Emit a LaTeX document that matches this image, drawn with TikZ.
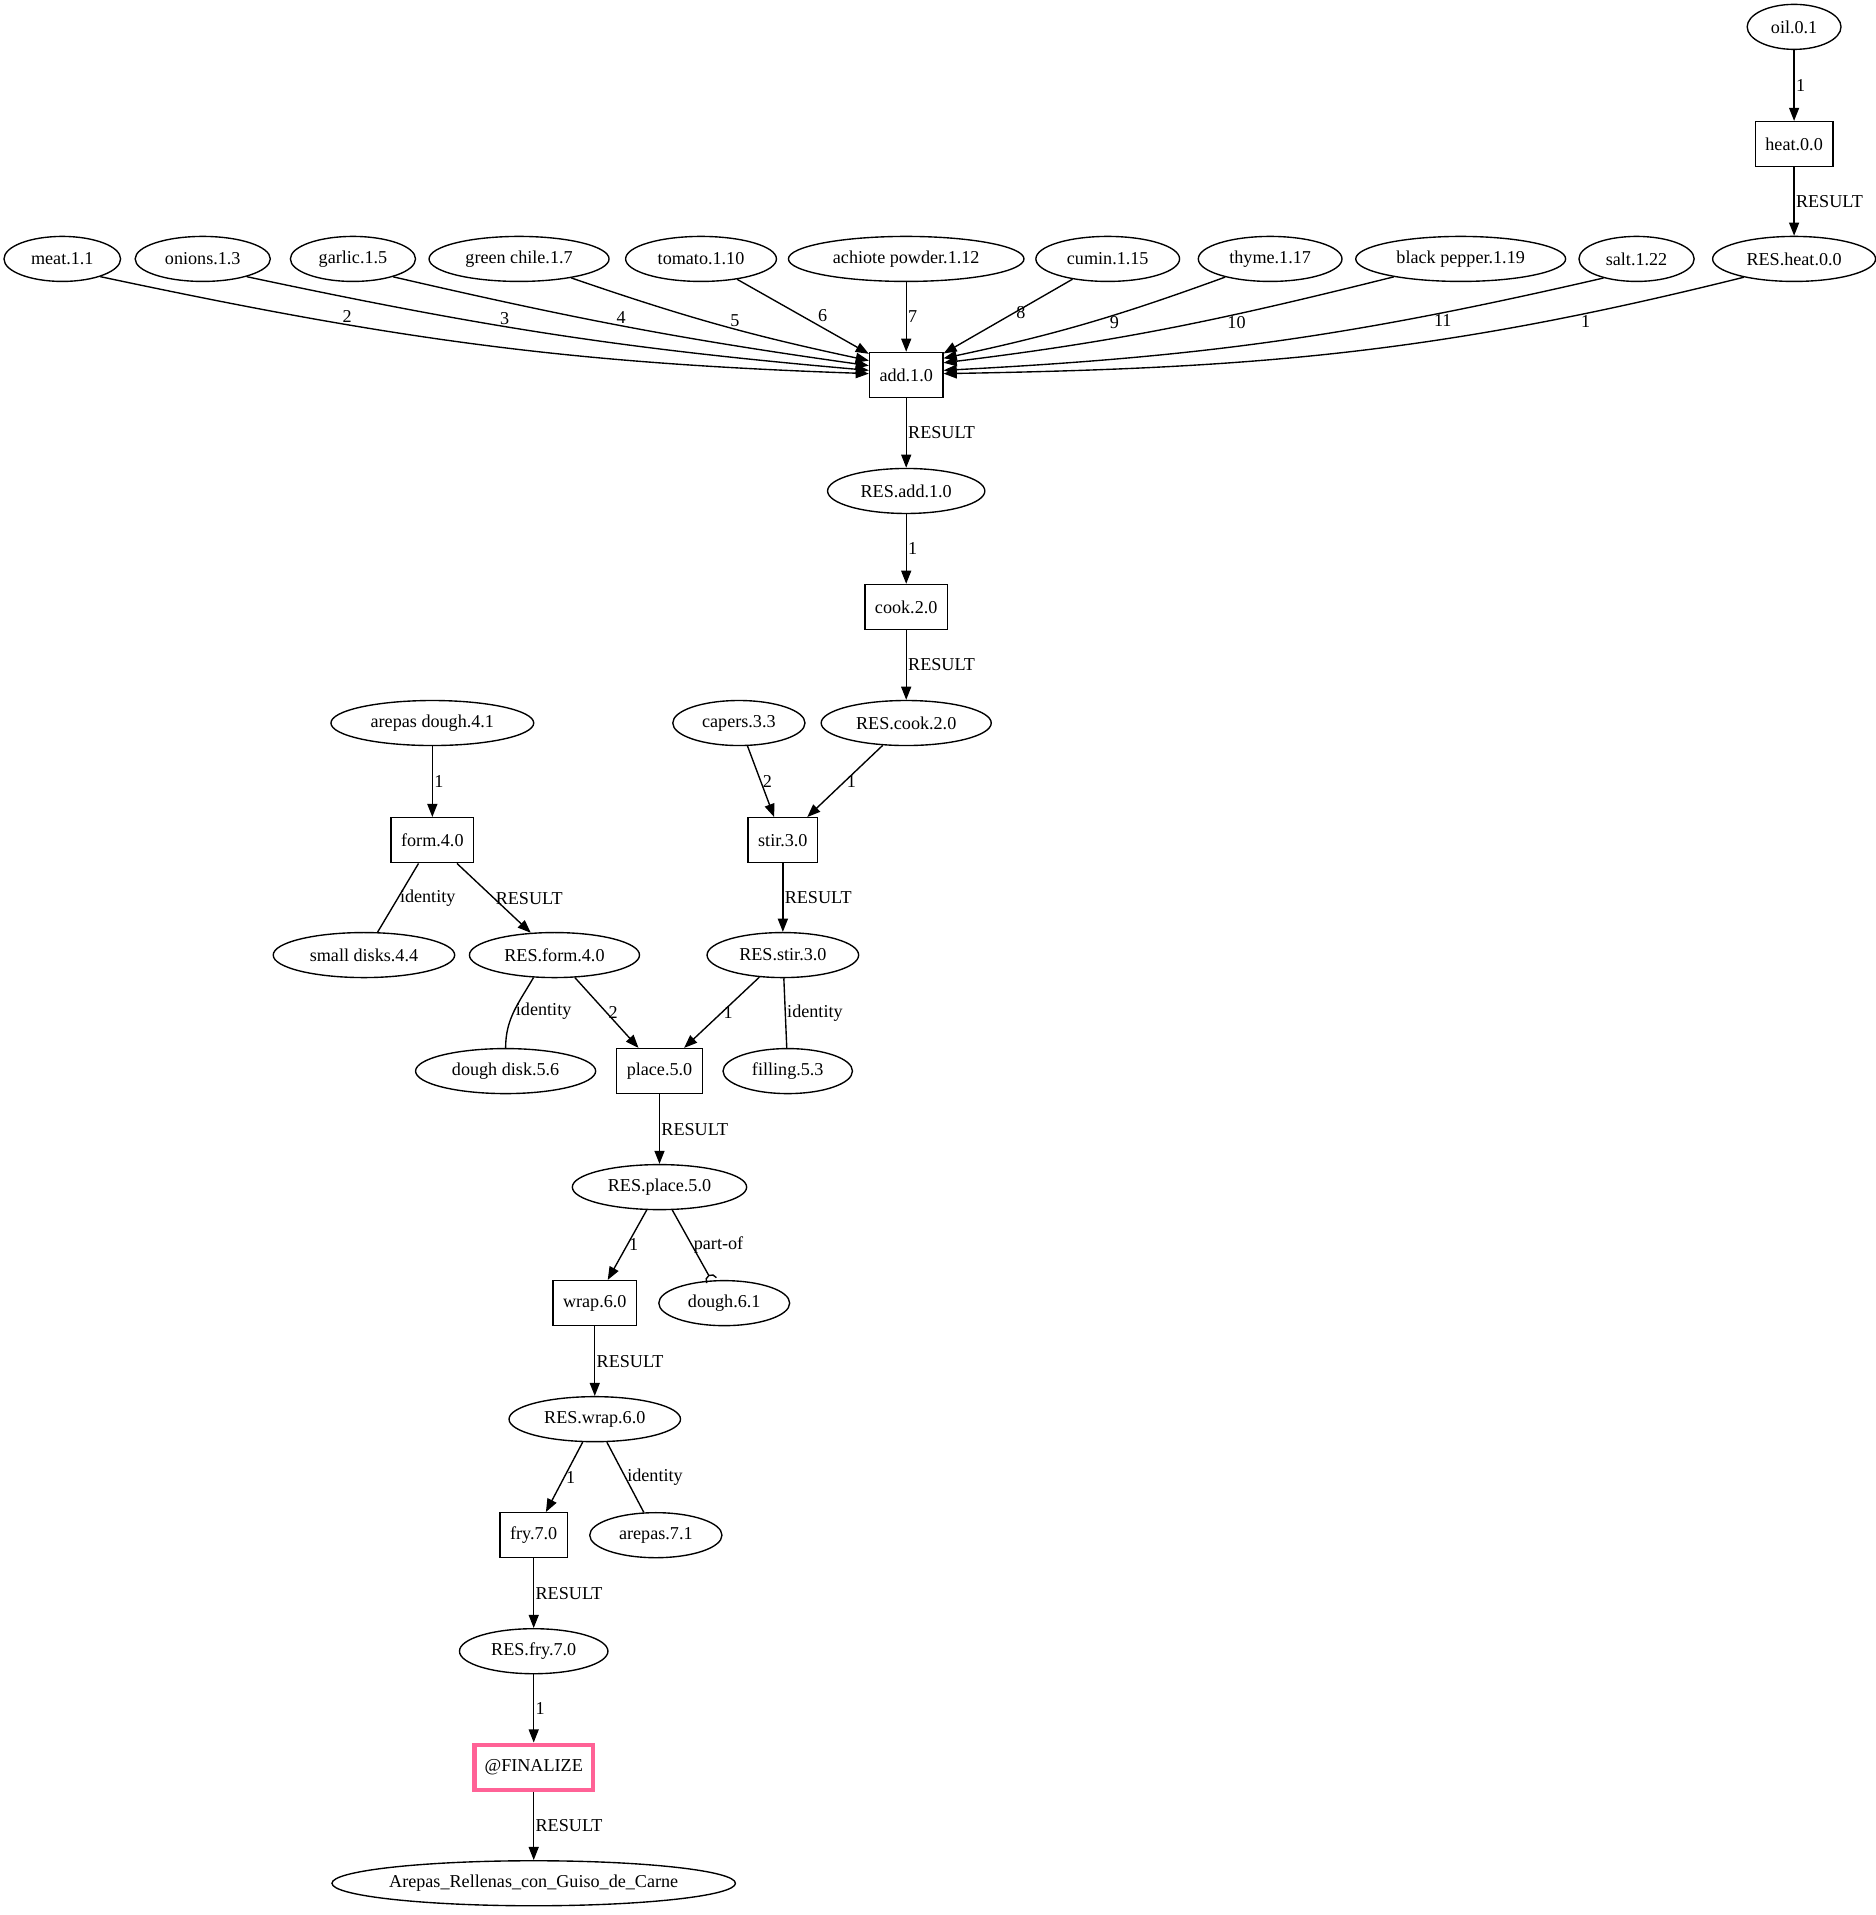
\documentclass[tikz,border=0pt]{standalone}
\usepackage{fontspec}
\setmainfont{Liberation Serif}
\usetikzlibrary{arrows.meta,shapes.geometric}
\definecolor{finpink}{HTML}{FF6296}

\begin{document}
\begin{tikzpicture}[x=0.97656pt,y=-0.97656pt,
  font=\fontsize{14.5}{16}\selectfont,line width=1.1pt,
  op/.style={draw,rectangle,minimum width=54pt,minimum height=36pt,inner xsep=8pt},
  ing/.style={draw,ellipse,minimum width=54pt,minimum height=36pt,inner xsep=8pt,inner ysep=3pt},
  fin/.style={op,draw=finpink,line width=3.5pt},
  flow/.style={-{Triangle[length=10.5pt,width=8pt]}},
  partof/.style={-{Arc Barb[reversed,length=5pt,width=10pt]}},
  lbl/.style={inner sep=1pt}]
  \useasboundingbox (0,0) rectangle (1536,1568);

  % oil gets heated first
  \node[ing] (oil) at (1469,22) {oil.0.1};
  \node[op] (heat) at (1469,118) {heat.0.0};
  \node[ing] (resheat) at (1469,212) {RES.heat.0.0};

  % everything that goes into the pot
  \node[ing] (meat) at (51,212) {meat.1.1};
  \node[ing] (onions) at (166,212) {onions.1.3};
  \node[ing] (garlic) at (289,212) {garlic.1.5};
  \node[ing] (chile) at (425,212) {green chile.1.7};
  \node[ing] (tomato) at (574,212) {tomato.1.10};
  \node[ing] (achiote) at (742,212) {achiote powder.1.12};
  \node[ing] (cumin) at (907,212) {cumin.1.15};
  \node[ing] (thyme) at (1040,212) {thyme.1.17};
  \node[ing] (pepper) at (1196,212) {black pepper.1.19};
  \node[ing] (salt) at (1340,212) {salt.1.22};
  \node[op] (add) at (742,307) {add.1.0};
  \node[ing] (resadd) at (742,402) {RES.add.1.0};
  \node[op] (cook) at (742,497) {cook.2.0};
  \node[ing] (rescook) at (742,592) {RES.cook.2.0};

  % filling and dough
  \node[ing] (capers) at (605,592) {capers.3.3};
  \node[ing] (arepasdough) at (354,592) {arepas dough.4.1};
  \node[op] (form) at (354,688) {form.4.0};
  \node[op] (stir) at (641,688) {stir.3.0};
  \node[ing] (disks) at (298,782) {small disks.4.4};
  \node[ing] (resform) at (454,782) {RES.form.4.0};
  \node[ing] (resstir) at (641,782) {RES.stir.3.0};
  \node[ing] (doughdisk) at (414,877) {dough disk.5.6};
  \node[op] (place) at (540,877) {place.5.0};
  \node[ing] (filling) at (645,877) {filling.5.3};
  \node[ing] (resplace) at (540,972) {RES.place.5.0};
  \node[op] (wrap) at (487,1067) {wrap.6.0};
  \node[ing] (doughsix) at (593,1067) {dough.6.1};
  \node[ing] (reswrap) at (487,1162) {RES.wrap.6.0};
  \node[op] (fry) at (437,1257) {fry.7.0};
  \node[ing] (arepas) at (537,1257) {arepas.7.1};
  \node[ing] (resfry) at (437,1352) {RES.fry.7.0};
  \node[fin] (final) at (437,1447) {@FINALIZE};
  \node[ing,inner xsep=-1.5pt] (dish) at (437,1542) {Arepas\_Rellenas\_con\_Guiso\_de\_Carne};

  \draw[flow] (oil) -- node[lbl,right] {1} (heat);
  \draw[flow] (heat) -- node[lbl,right] {RESULT} (resheat);

  \draw[flow] (meat.-25) to[out=-12,in=178] node[lbl,pos=0.31,above] {2} (add.178);
  \draw[flow] (onions.-22) to[out=-12,in=175] node[lbl,pos=0.41,above] {3} (add.173);
  \draw[flow] (garlic.-24) to[out=-13,in=172] node[lbl,pos=0.48,above] {4} (add.166);
  \draw[flow] (chile.-20) to[out=-19,in=168] node[lbl,pos=0.56,above] {5} (add.159);
  \draw[flow] (tomato) -- node[lbl,pos=0.6,above right] {6} (add);
  \draw[flow] (achiote) -- node[lbl,right] {7} (add);
  \draw[flow] (cumin) -- node[lbl,pos=0.45,right] {8} (add);
  \draw[flow] (thyme.202) to[out=200,in=12] node[lbl,pos=0.39,below] {9} (add.24);
  \draw[flow] (pepper.195) to[out=194,in=7] node[lbl,pos=0.34,below] {10} (add.18);
  \draw[flow] (salt.210) to[out=193,in=3] node[lbl,pos=0.23,below] {11} (add.7);
  \draw[flow] (resheat.200) to[out=194,in=1] node[lbl,pos=0.185,below] {1} (add.2);

  \draw[flow] (add) -- node[lbl,right] {RESULT} (resadd);
  \draw[flow] (resadd) -- node[lbl,right] {1} (cook);
  \draw[flow] (cook) -- node[lbl,right] {RESULT} (rescook);

  \draw[flow] (arepasdough) -- node[lbl,right] {1} (form);
  \draw[flow] (capers) -- node[lbl,right] {2} (stir);
  \draw[flow] (rescook) -- node[lbl,right] {1} (stir);
  \draw[flow] (form) -- node[lbl,right] {RESULT} (resform);
  \draw (form) -- node[lbl,right] {identity} (disks);
  \draw[flow] (stir) -- node[lbl,right] {RESULT} (resstir);

  \draw (resform.-133) to[out=-120,in=90] node[lbl,right] {identity} (doughdisk.north);
  \draw[flow] (resform) -- node[lbl,right] {2} (place);
  \draw[flow] (resstir) -- node[lbl,right] {1} (place);
  \draw (resstir) -- node[lbl,right] {identity} (filling);
  \draw[flow] (place) -- node[lbl,right] {RESULT} (resplace);

  \draw[flow] (resplace) -- node[lbl,right] {1} (wrap);
  \draw[partof] (resplace) -- node[lbl,right] {part-of} (doughsix);
  \draw[flow] (wrap) -- node[lbl,right] {RESULT} (reswrap);
  \draw[flow] (reswrap) -- node[lbl,right] {1} (fry);
  \draw (reswrap) -- node[lbl,right] {identity} (arepas);
  \draw[flow] (fry) -- node[lbl,right] {RESULT} (resfry);
  \draw[flow] (resfry) -- node[lbl,right] {1} (final);
  \draw[flow] (final) -- node[lbl,right] {RESULT} (dish);
\end{tikzpicture}
\end{document}
